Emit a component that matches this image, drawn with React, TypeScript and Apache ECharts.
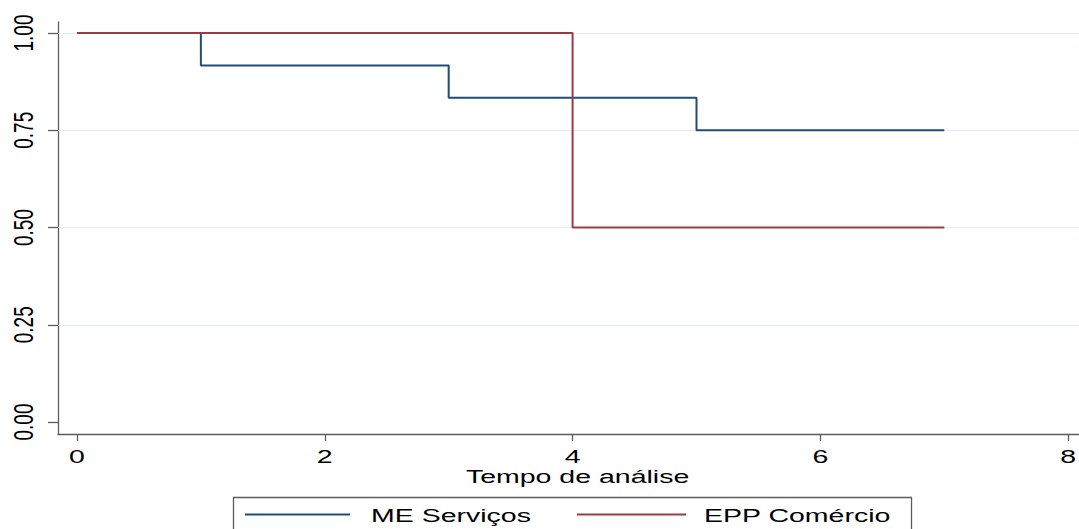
import React, { useEffect, useRef } from "react";
import * as echarts from "echarts";

const xTicks = [0, 2, 4, 6, 8];
const xTickLabels = ["0", "2", "4", "6", "8"];
const yTicks = [0, 0.25, 0.5, 0.75, 1];
const yTickLabels = ["0.00", "0.25", "0.50", "0.75", "1.00"];
const gridValues = [0.25, 0.5, 0.75, 1];

const xTitle = "Tempo de análise";
const seriesNames = ["ME Serviços", "EPP Comércio"];
const meTime = [0, 1, 3, 5, 7];
const meSurv = [1, 0.9167, 0.8333, 0.75, 0.75];
const eppTime = [0, 4, 7];
const eppSurv = [1, 0.5, 0.5];

const BLUE = "#1f4d78";
const RED = "#973c43";
const AXIS = "#5c5c5c";
const FONT = '"Liberation Sans", Arial, sans-serif';
const STRETCH = 1.5;

export default function App() {
  const ref = useRef<HTMLDivElement>(null);
  useEffect(() => {
    const chart = echarts.init(ref.current!, null, { renderer: "svg" });
    const option: any = {
      animation: false,
      backgroundColor: "#ffffff",
      grid: { left: 58, right: 0, top: 22, bottom: 95 },
      xAxis: {
        type: "value",
        min: -0.153,
        max: 8.087,
        axisLine: { show: true, onZero: false, lineStyle: { color: AXIS, width: 1.3 } },
        axisTick: { show: true, customValues: xTicks, length: 7, lineStyle: { color: AXIS, width: 1.3 } },
        axisLabel: { show: false, customValues: xTicks },
        splitLine: { show: false },
      },
      yAxis: {
        type: "value",
        min: -0.0308,
        max: 1.0283,
        axisLine: { show: true, onZero: false, lineStyle: { color: AXIS, width: 1.3 } },
        axisTick: { show: true, customValues: yTicks, length: 10, lineStyle: { color: AXIS, width: 1.3 } },
        axisLabel: { show: false, customValues: yTicks },
        splitLine: { show: false },
      },
      series: [
        {
          type: "line",
          name: "grid",
          data: [],
          silent: true,
          z: 1,
          markLine: {
            silent: true,
            z: 1,
            symbol: "none",
            label: { show: false },
            lineStyle: { color: "#e4edf0", width: 1, type: "solid" },
            data: gridValues.map((v) => ({ yAxis: v })),
          },
        },
        {
          type: "line",
          name: seriesNames[0],
          step: "end",
          symbol: "none",
          z: 10,
          lineStyle: { color: BLUE, width: 2 },
          data: meTime.map((t, i) => [t, meSurv[i]]),
        },
        {
          type: "line",
          name: seriesNames[1],
          step: "end",
          symbol: "none",
          z: 11,
          lineStyle: { color: RED, width: 2 },
          data: eppTime.map((t, i) => [t, eppSurv[i]]),
        },
      ],
    };
    chart.setOption(option);

    const gx = (v: number) => chart.convertToPixel({ xAxisIndex: 0 }, v) as number;
    const gy = (v: number) => chart.convertToPixel({ yAxisIndex: 0 }, v) as number;
    const txt = (text: string, x: number, y: number, align: string) => ({
      type: "text",
      x,
      y,
      scaleX: STRETCH,
      silent: true,
      style: {
        text,
        x: 0,
        y: 0,
        fill: "#000000",
        fontSize: 19,
        fontFamily: FONT,
        align,
        verticalAlign: "middle",
      },
    });

    const graphics: any[] = [];
    xTicks.forEach((v, i) => graphics.push(txt(xTickLabels[i], gx(v), 456, "center")));
    yTicks.forEach((v, i) =>
      graphics.push({
        type: "text",
        x: 23,
        y: gy(v),
        rotation: Math.PI / 2,
        scaleY: STRETCH,
        silent: true,
        style: {
          text: yTickLabels[i],
          x: 0,
          y: 0,
          fill: "#000000",
          fontSize: 19,
          fontFamily: FONT,
          align: "center",
          verticalAlign: "middle",
        },
      })
    );
    graphics.push(txt(xTitle, gx(4) + 5, 476, "center"));
    graphics.push({
      type: "rect",
      silent: true,
      shape: { x: 233.5, y: 497.5, width: 678, height: 60 },
      style: { fill: "#ffffff", stroke: AXIS, lineWidth: 1.3 },
    });
    graphics.push({
      type: "line",
      silent: true,
      shape: { x1: 245, y1: 514.5, x2: 350, y2: 514.5 },
      style: { stroke: BLUE, lineWidth: 2 },
    });
    graphics.push({
      type: "line",
      silent: true,
      shape: { x1: 577, y1: 514.5, x2: 686, y2: 514.5 },
      style: { stroke: RED, lineWidth: 2 },
    });
    graphics.push(txt(seriesNames[0], 371, 515, "left"));
    graphics.push(txt(seriesNames[1], 704, 515, "left"));
    chart.setOption({ graphic: graphics });

    return () => chart.dispose();
  }, []);
  return (
    <div
      ref={ref}
      style={{ position: "fixed", left: 0, top: 0, width: 1079, height: 529 }}
    />
  );
}
